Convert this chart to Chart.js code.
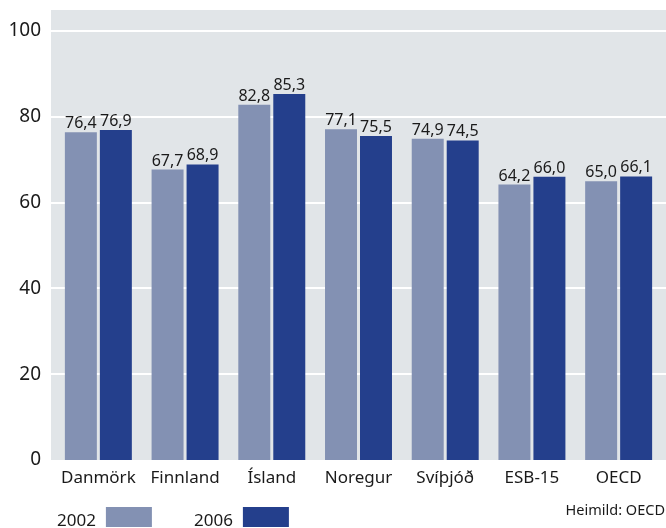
<!DOCTYPE html>
<html>
<head>
<meta charset="utf-8">
<script src="https://cdn.jsdelivr.net/npm/chart.js@4.4.0/dist/chart.umd.min.js"></script>
<style>
  html, body { margin: 0; padding: 0; background: #ffffff; }
  #wrap { width: 666px; height: 528px; position: relative; }
</style>
</head>
<body>
<div id="wrap"><canvas id="chart"></canvas></div>
<script>
// Data
const categories = ["Danmörk", "Finnland", "Ísland", "Noregur", "Svíþjóð", "ESB-15", "OECD"];
const values2002 = [76.4, 67.7, 82.8, 77.1, 74.9, 64.2, 65.0];
const values2006 = [76.9, 68.9, 85.3, 75.5, 74.5, 66.0, 66.1];
const seriesLabels = ["2002", "2006"];
const yTicks = [0, 20, 40, 60, 80, 100];
const sourceNote = "Heimild: OECD";

const FONT = "'Noto Sans', sans-serif";
const colorLight = "#8391b3";
const colorDark = "#243f8c";
const EDGE = 4; // grey panel reaches a little beyond the bar area

Chart.defaults.font.family = FONT;
Chart.defaults.color = "#1a1a1a";

// grey plot background with white gridlines
const plotBg = {
  id: "plotBg",
  beforeDatasetsDraw(chart) {
    const { ctx, chartArea } = chart;
    const y = chart.scales.y;
    const left = chartArea.left - EDGE;
    const right = chartArea.right + EDGE;
    ctx.save();
    ctx.fillStyle = "#e1e5e8";
    ctx.fillRect(left, chartArea.top, right - left, chartArea.bottom - chartArea.top);
    ctx.strokeStyle = "#ffffff";
    ctx.lineWidth = 2;
    yTicks.forEach((v) => {
      if (v === 0) return;
      const py = Math.round(y.getPixelForValue(v));
      ctx.beginPath();
      ctx.moveTo(left, py);
      ctx.lineTo(right, py);
      ctx.stroke();
    });
    ctx.restore();
  },
};

// value labels above bars
const valueLabels = {
  id: "valueLabels",
  afterDatasetsDraw(chart) {
    const { ctx } = chart;
    ctx.save();
    ctx.font = "16px " + FONT;
    ctx.fillStyle = "#1a1a1a";
    ctx.textAlign = "center";
    ctx.textBaseline = "alphabetic";
    chart.data.datasets.forEach((ds, i) => {
      chart.getDatasetMeta(i).data.forEach((bar, j) => {
        ctx.fillText(ds.data[j].toFixed(1).replace(".", ","), bar.x, bar.y - 4);
      });
    });
    ctx.restore();
  },
};

// legend: text then box, plus source note
const bottomLegend = {
  id: "bottomLegend",
  afterDraw(chart) {
    const { ctx } = chart;
    ctx.save();
    ctx.font = "17px " + FONT;
    ctx.textBaseline = "middle";
    ctx.textAlign = "left";
    const xs = [57, 194];
    chart.data.datasets.forEach((ds, i) => {
      ctx.fillStyle = "#1a1a1a";
      ctx.fillText(ds.label, xs[i], 521);
      const w = ctx.measureText(ds.label).width;
      ctx.fillStyle = ds.backgroundColor;
      ctx.fillRect(xs[i] + w + 10, 507, 46, 20);
    });
    ctx.font = "14.5px " + FONT;
    ctx.textAlign = "right";
    ctx.fillStyle = "#1a1a1a";
    ctx.fillText(sourceNote, 665, 511);
    ctx.restore();
  },
};

new Chart(document.getElementById("chart").getContext("2d"), {
  type: "bar",
  data: {
    labels: categories,
    datasets: [
      {
        label: seriesLabels[0],
        data: values2002,
        backgroundColor: colorLight,
        barPercentage: 0.914,
        categoryPercentage: 0.807,
      },
      {
        label: seriesLabels[1],
        data: values2006,
        backgroundColor: colorDark,
        barPercentage: 0.914,
        categoryPercentage: 0.807,
      },
    ],
  },
  options: {
    responsive: true,
    maintainAspectRatio: false,
    animation: false,
    layout: {
      padding: { top: 10, right: EDGE, bottom: 0, left: EDGE },
    },
    plugins: {
      legend: { display: false },
      tooltip: { enabled: false },
    },
    scales: {
      x: {
        grid: { display: false, drawTicks: false },
        border: { display: false },
        ticks: {
          font: { size: 17 },
          color: "#1a1a1a",
          padding: 8,
          maxRotation: 0,
        },
        afterFit(scale) {
          scale.height = 68;
          scale.paddingLeft = 0;
          scale.paddingRight = 0;
        },
      },
      y: {
        min: 0,
        max: 104.9,
        grid: { display: false, drawTicks: false },
        border: { display: false },
        ticks: {
          font: { size: 19 },
          color: "#1a1a1a",
          padding: 14,
        },
        afterBuildTicks(axis) {
          axis.ticks = yTicks.map((v) => ({ value: v }));
        },
        afterFit(scale) {
          scale.width = 51;
          scale.paddingTop = 0;
          scale.paddingBottom = 0;
        },
      },
    },
  },
  plugins: [plotBg, valueLabels, bottomLegend],
});
</script>
</body>
</html>
